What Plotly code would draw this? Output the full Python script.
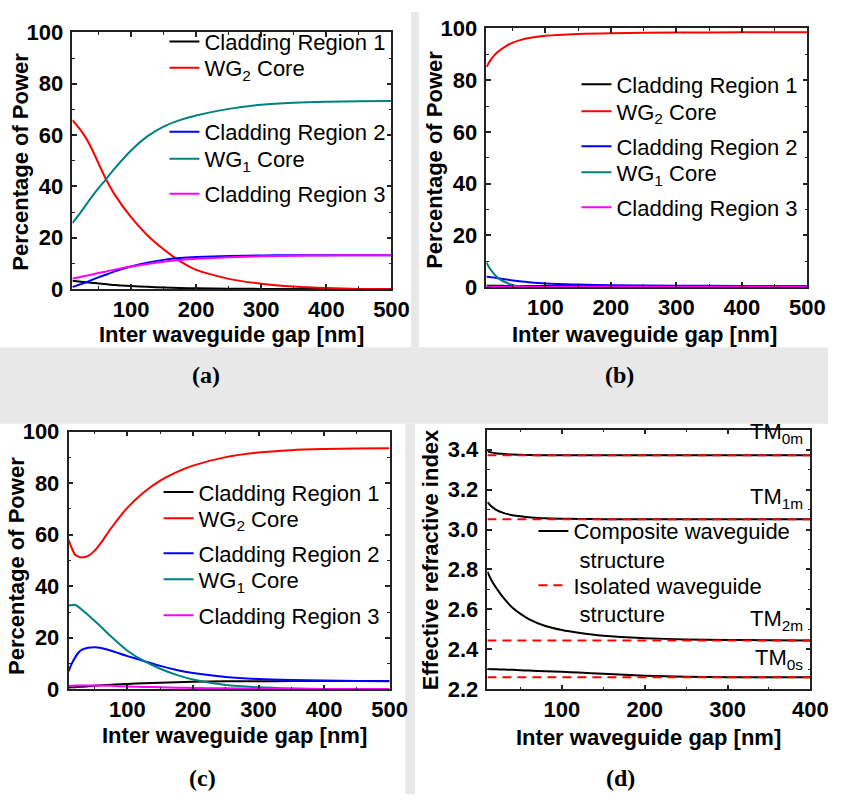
import plotly.graph_objects as go

W, H = 846, 807

# ---------------- data ----------------
# Panel (a)
x_a = [10, 20, 30, 40, 50, 60, 75, 100, 125, 150, 175, 200, 250, 300, 350, 400, 450, 500]
a_clad1 = [3.3, 3.0, 2.7, 2.5, 2.2, 2.0, 1.6, 1.2, 0.9, 0.6, 0.45, 0.3, 0.15, 0.1, 0.05, 0.02, 0.0, 0.0]
a_wg2 = [65.8, 62.8, 59.2, 54.5, 49.0, 43.6, 36.8, 28.0, 21.0, 15.5, 10.9, 7.5, 4.0, 2.1, 1.0, 0.4, 0.1, 0.0]
a_clad2 = [0.8, 1.7, 2.6, 3.6, 4.6, 5.5, 6.9, 8.8, 10.3, 11.4, 12.1, 12.5, 12.9, 13.1, 13.2, 13.2, 13.2, 13.2]
a_wg1 = [25.7, 29.0, 32.5, 36.0, 39.3, 42.3, 47.0, 54.0, 59.5, 63.3, 65.8, 67.6, 70.2, 71.8, 72.6, 73.0, 73.2, 73.3]
a_clad3 = [4.1, 4.6, 5.2, 5.7, 6.3, 6.8, 7.6, 8.8, 9.8, 10.7, 11.3, 11.8, 12.4, 12.8, 13.0, 13.1, 13.2, 13.2]

# Panel (b)
x_b = [10, 15, 20, 25, 30, 40, 50, 60, 75, 100, 150, 200, 300, 400, 500]
b_clad1 = [0.6, 0.6, 0.6, 0.55, 0.55, 0.5, 0.5, 0.5, 0.45, 0.45, 0.4, 0.4, 0.4, 0.4, 0.4]
b_wg2 = [85.1, 87.3, 89.0, 90.4, 91.5, 93.2, 94.5, 95.4, 96.3, 97.2, 97.9, 98.2, 98.4, 98.5, 98.5]
b_clad2 = [4.0, 3.9, 3.8, 3.6, 3.4, 3.0, 2.6, 2.3, 1.9, 1.4, 1.0, 0.8, 0.6, 0.5, 0.5]
b_wg1 = [9.6, 7.3, 5.6, 4.2, 3.1, 1.8, 0.9, 0.4, 0.15, 0.05, 0.0, 0.0, 0.0, 0.0, 0.0]
b_clad3 = [0.2, 0.2, 0.2, 0.2, 0.2, 0.2, 0.2, 0.2, 0.2, 0.2, 0.2, 0.2, 0.2, 0.2, 0.2]

# Panel (c)
x_c = [10, 15, 20, 25, 30, 40, 50, 60, 75, 100, 125, 150, 175, 200, 250, 300, 350, 400, 450, 500]
c_clad1 = [0.75, 0.8, 0.85, 0.95, 1.0, 1.2, 1.4, 1.55, 1.8, 2.1, 2.4, 2.6, 2.8, 2.95, 3.1, 3.15, 3.2, 3.2, 3.2, 3.2]
c_wg2 = [58.0, 54.8, 52.2, 51.5, 51.2, 51.8, 53.8, 57.0, 62.5, 70.5, 76.5, 81.0, 84.3, 86.8, 90.1, 91.9, 92.8, 93.2, 93.4, 93.5]
c_clad2 = [7.0, 10.0, 12.3, 14.2, 15.3, 16.1, 16.3, 16.0, 15.0, 12.9, 11.0, 9.1, 7.5, 6.3, 4.8, 4.0, 3.6, 3.4, 3.2, 3.1]
c_wg1 = [32.5, 32.7, 32.8, 32.0, 31.0, 28.8, 26.5, 24.2, 20.5, 15.0, 11.0, 8.0, 5.6, 3.8, 1.7, 0.8, 0.35, 0.15, 0.05, 0.0]
c_clad3 = [1.3, 1.4, 1.45, 1.5, 1.5, 1.5, 1.5, 1.45, 1.35, 1.15, 0.95, 0.8, 0.65, 0.55, 0.4, 0.3, 0.2, 0.15, 0.1, 0.1]

# Panel (d)
x_d = [10, 15, 20, 30, 40, 50, 60, 80, 100, 120, 150, 200, 250, 300, 350, 400]
tm0m = [3.390, 3.386, 3.382, 3.378, 3.375, 3.374, 3.373, 3.372, 3.372, 3.372, 3.372, 3.372, 3.372, 3.372, 3.372, 3.372]
tm1m = [3.137, 3.115, 3.100, 3.082, 3.072, 3.066, 3.062, 3.056, 3.054, 3.053, 3.052, 3.051, 3.051, 3.051, 3.051, 3.051]
tm2m = [2.789, 2.745, 2.712, 2.655, 2.610, 2.578, 2.552, 2.517, 2.497, 2.483, 2.468, 2.456, 2.450, 2.447, 2.446, 2.445]
tm0s = [2.302, 2.301, 2.300, 2.299, 2.298, 2.296, 2.294, 2.291, 2.288, 2.284, 2.278, 2.268, 2.263, 2.261, 2.260, 2.260]
iso_x = [10, 400]
iso_levels = [3.372, 3.051, 2.445, 2.260]
mode_labels = ["TM<sub>0m</sub>", "TM<sub>1m</sub>", "TM<sub>2m</sub>", "TM<sub>0s</sub>"]
mode_label_y = [3.485, 3.157, 2.547, 2.352]

power_names = ["Cladding Region 1", "WG<sub>2</sub> Core", "Cladding Region 2",
               "WG<sub>1</sub> Core", "Cladding Region 3"]
power_colors = ["#000000", "#FF0000", "#0000FF", "#008080", "#FF00FF"]

# ---------------- helpers ----------------
def px(x):
    return x / W

def py(y):
    return 1 - y / H

SANS = "Liberation Sans"
SERIF = "Liberation Serif"

fig = go.Figure()

# legend placement per entry: (left x px, top y px)
legend_pos = {
    "a": (168, [9, 36, 102, 130, 166]),
    "b": (589, [53, 81, 117, 144, 180]),
    "c": (162, [474, 501, 537, 564, 601]),
}
leg_layout = {}
leg_counter = [0]
legfont = dict(family=SANS, size=22, color="#000000")

def new_legend(xpx, ypx, **kw):
    leg_counter[0] += 1
    key = "legend" if leg_counter[0] == 1 else "legend%d" % leg_counter[0]
    d = dict(x=px(xpx), y=py(ypx), xanchor="left", yanchor="top",
             bgcolor="rgba(0,0,0,0)", borderwidth=0, font=legfont,
             tracegroupgap=0, itemwidth=30, itemclick=False, itemdoubleclick=False)
    d.update(kw)
    leg_layout[key] = d
    return key

panels = [
    ("a", "x", "y", x_a, [a_clad1, a_wg2, a_clad2, a_wg1, a_clad3]),
    ("b", "x2", "y2", x_b, [b_clad1, b_wg2, b_clad2, b_wg1, b_clad3]),
    ("c", "x3", "y3", x_c, [c_clad1, c_wg2, c_clad2, c_wg1, c_clad3]),
]
for key, xa, ya, xs, series in panels:
    lx, tops = legend_pos[key]
    for name, col, ys, top in zip(power_names, power_colors, series, tops):
        lg = new_legend(lx, top)
        fig.add_trace(go.Scatter(x=xs, y=ys, mode="lines", name=name,
                                 line=dict(color=col, width=2, shape="spline", smoothing=0.6),
                                 xaxis=xa, yaxis=ya, legend=lg))

# panel d
lg_comp = new_legend(545, 514, valign="top")
lg_iso = new_legend(545, 570, valign="top")
for i, ys in enumerate([tm0m, tm1m, tm2m, tm0s]):
    fig.add_trace(go.Scatter(x=x_d, y=ys, mode="lines",
                             name="Composite waveguide<br>&nbsp;structure",
                             line=dict(color="#000000", width=2, shape="spline", smoothing=0.6),
                             xaxis="x4", yaxis="y4", legend=lg_comp,
                             showlegend=(i == 0)))
for i, lv in enumerate(iso_levels):
    fig.add_trace(go.Scatter(x=iso_x, y=[lv, lv], mode="lines",
                             name="Isolated waveguide<br>&nbsp;structure",
                             line=dict(color="#FF0000", width=2, dash="9px,6px"),
                             xaxis="x4", yaxis="y4", legend=lg_iso,
                             showlegend=(i == 0)))

# ---------------- axes ----------------
tickfont = dict(family=SANS, size=22, color="#000000", weight="bold")
def xaxis_cfg(dom, anchor, rng):
    return dict(domain=dom, anchor=anchor, range=rng, tick0=0, dtick=100,
                ticks="inside", ticklen=5, tickwidth=1.5, tickcolor="#222222",
                minor=dict(dtick=50, ticks="inside", ticklen=3, tickwidth=1.2, tickcolor="#222222"),
                showline=True, linecolor="#222222", linewidth=1.5, mirror="allticks",
                showgrid=False, zeroline=False, tickfont=tickfont, ticklabelstandoff=0)

def yaxis_cfg(dom, anchor, rng, dtick, mdtick, fmt=None):
    d = dict(domain=dom, anchor=anchor, range=rng, dtick=dtick,
             ticks="inside", ticklen=5, tickwidth=1.5, tickcolor="#222222",
             minor=dict(dtick=mdtick, ticks="inside", ticklen=3, tickwidth=1.2, tickcolor="#222222"),
             showline=True, linecolor="#222222", linewidth=1.5, mirror="allticks",
             showgrid=False, zeroline=False, tickfont=tickfont, ticklabelstandoff=3)
    if fmt:
        d["tickformat"] = fmt
    return d

dom_a = ([px(74), px(400)], [py(286), py(21)])
dom_b = ([px(497), px(825)], [py(284), py(17)])
dom_c = ([px(70), px(398)], [py(699), py(433)])
dom_d = ([px(498), px(828)], [py(699), py(431)])

fig.update_layout(
    xaxis=xaxis_cfg(dom_a[0], "y", [10, 500]),
    yaxis=yaxis_cfg(dom_a[1], "x", [0, 100], 20, 10),
    xaxis2=xaxis_cfg(dom_b[0], "y2", [10, 500]),
    yaxis2=yaxis_cfg(dom_b[1], "x2", [0, 100], 20, 10),
    xaxis3=xaxis_cfg(dom_c[0], "y3", [10, 500]),
    yaxis3=yaxis_cfg(dom_c[1], "x3", [0, 100], 20, 10),
    xaxis4=xaxis_cfg(dom_d[0], "y4", [10, 400]),
    yaxis4=yaxis_cfg(dom_d[1], "x4", [2.2, 3.5], 0.2, 0.1, ".1f"),
)
fig.update_layout(**leg_layout)

# ---------------- annotations ----------------
ann = []
titlefont = dict(family=SANS, size=22, color="#000000", weight="bold")
for (xc, yc, txt) in [(237, 333, "Inter waveguide gap [nm]"),
                      (659, 333, "Inter waveguide gap [nm]"),
                      (240, 747, "Inter waveguide gap [nm]"),
                      (663, 749, "Inter waveguide gap [nm]")]:
    ann.append(dict(x=px(xc), y=py(yc), xref="paper", yref="paper", text=txt,
                    showarrow=False, xanchor="center", yanchor="middle", font=titlefont))
for (xc, yc, txt) in [(21, 155, "Percentage of Power"),
                      (444, 153, "Percentage of Power"),
                      (17, 572, "Percentage of Power"),
                      (440, 565, "Effective refractive index")]:
    ann.append(dict(x=px(xc), y=py(yc), xref="paper", yref="paper", text=txt, textangle=-90,
                    showarrow=False, xanchor="center", yanchor="middle", font=titlefont))
labfont = dict(family=SERIF, size=24, color="#000000", weight="bold")
for (xc, yc, txt) in [(210, 375, "(a)"), (633, 375, "(b)"), (207, 790, "(c)"), (634, 790, "(d)")]:
    ann.append(dict(x=px(xc), y=py(yc), xref="paper", yref="paper", text=txt,
                    showarrow=False, xanchor="center", yanchor="middle", font=labfont))
for txt, yv in zip(mode_labels, mode_label_y):
    ann.append(dict(x=393, y=yv, xref="x4", yref="y4", text=txt, showarrow=False,
                    xanchor="right", yanchor="middle",
                    font=dict(family=SANS, size=22, color="#000000")))

# ---------------- background watermark approximation ----------------
gray = "#e8e8e8"
shapes = [
    dict(type="rect", xref="paper", yref="paper", x0=0, x1=1, y0=py(425), y1=py(346),
         fillcolor=gray, line=dict(width=0), layer="below"),
    dict(type="rect", xref="paper", yref="paper", x0=px(420), x1=px(428), y0=py(346), y1=1,
         fillcolor=gray, line=dict(width=0), layer="below"),
    dict(type="rect", xref="paper", yref="paper", x0=px(414), x1=px(424), y0=0, y1=py(425),
         fillcolor=gray, line=dict(width=0), layer="below"),
]

fig.update_layout(width=W, height=H, margin=dict(l=0, r=0, t=0, b=0),
                  paper_bgcolor="#ffffff", plot_bgcolor="#ffffff",
                  annotations=ann, shapes=shapes, showlegend=True)

fig.write_html("out.html")
